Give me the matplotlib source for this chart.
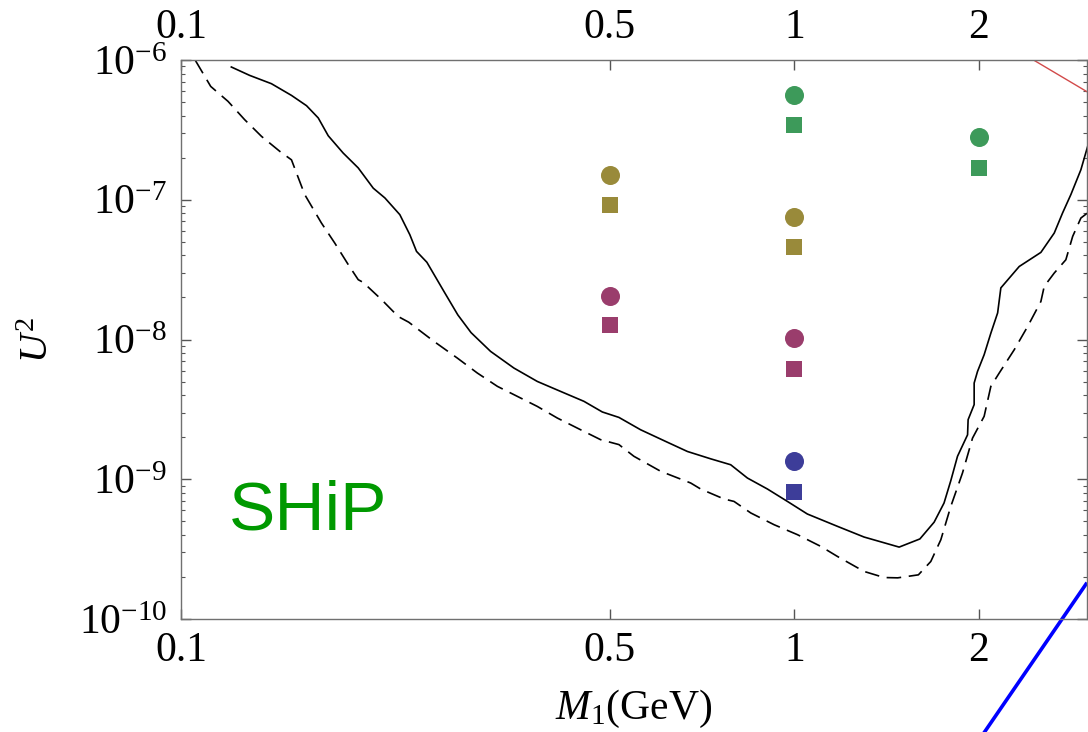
import numpy as np
import matplotlib
matplotlib.use("Agg")
import matplotlib.pyplot as plt
from matplotlib.ticker import FixedLocator, NullLocator, FuncFormatter, LogLocator

plt.rcParams["font.family"] = ["Liberation Serif", "DejaVu Serif"]
plt.rcParams["mathtext.fontset"] = "custom"
plt.rcParams["mathtext.rm"] = "Liberation Serif"
plt.rcParams["mathtext.it"] = "Liberation Serif:italic"
plt.rcParams["mathtext.bf"] = "Liberation Serif:bold"
plt.rcParams["lines.scale_dashes"] = False

# SHiP sensitivity curves (solid and dashed), M in GeV vs U^2
solid_M = [0.1208, 0.1294, 0.1404, 0.1514, 0.1602, 0.1674, 0.1738, 0.1838, 0.1945,
           0.2058, 0.2150, 0.2274, 0.2361, 0.2421, 0.2517, 0.2688, 0.2827, 0.2971,
           0.3197, 0.3489, 0.3810, 0.4159, 0.4539, 0.4863, 0.5176, 0.5615, 0.6209,
           0.6694, 0.7305, 0.7874, 0.8385, 0.9040, 0.9743, 1.050, 1.176, 1.299,
           1.482, 1.602, 1.690, 1.754, 1.799, 1.845, 1.916, 1.920, 1.964, 1.964,
           1.989, 2.039, 2.091, 2.145, 2.171, 2.326, 2.523, 2.653, 2.737, 2.824,
           2.932, 3.010]
solid_U2 = [8.91e-7, 7.76e-7, 6.77e-7, 5.58e-7, 4.71e-7, 3.85e-7, 2.87e-7, 2.16e-7, 1.69e-7,
            1.21e-7, 1.03e-7, 7.82e-8, 5.62e-8, 4.27e-8, 3.57e-8, 2.18e-8, 1.50e-8, 1.12e-8,
            8.22e-9, 6.25e-9, 5.01e-9, 4.25e-9, 3.61e-9, 3.03e-9, 2.77e-9, 2.26e-9, 1.84e-9,
            1.58e-9, 1.40e-9, 1.27e-9, 1.02e-9, 8.51e-10, 6.94e-10, 5.64e-10, 4.60e-10, 3.86e-10,
            3.27e-10, 3.74e-10, 4.93e-10, 6.76e-10, 9.76e-10, 1.46e-9, 2.08e-9, 2.67e-9, 3.42e-9, 4.88e-9,
            5.91e-9, 7.78e-9, 1.11e-8, 1.55e-8, 2.34e-8, 3.33e-8, 4.20e-8, 5.78e-8, 8.04e-8, 1.09e-7,
            1.64e-7, 2.44e-7]

dashed_M = [0.1056, 0.1118, 0.1193, 0.1270, 0.1353, 0.1449, 0.1514, 0.1543, 0.1591,
            0.1694, 0.1781, 0.1874, 0.1945, 0.1982, 0.2123, 0.2260, 0.2351, 0.2585,
            0.2821, 0.3041, 0.3280, 0.3534, 0.3810, 0.4108, 0.4483, 0.4831, 0.5176,
            0.5475, 0.6054, 0.6776, 0.7036, 0.7681, 0.7973, 0.8490, 0.9266, 1.012,
            1.104, 1.176, 1.299, 1.401, 1.474, 1.593, 1.669, 1.733, 1.799, 1.880,
            1.928, 1.952, 2.039, 2.091, 2.158, 2.283, 2.401, 2.523, 2.555, 2.653,
            2.771, 2.843, 2.932, 3.010]
dashed_U2 = [9.89e-7, 6.47e-7, 5.06e-7, 3.74e-7, 2.84e-7, 2.22e-7, 1.93e-7, 1.55e-7, 1.09e-7,
             6.82e-8, 4.90e-8, 3.43e-8, 2.68e-8, 2.56e-8, 1.93e-8, 1.46e-8, 1.33e-8, 9.69e-9,
             7.37e-9, 5.76e-9, 4.62e-9, 3.92e-9, 3.32e-9, 2.74e-9, 2.26e-9, 1.92e-9, 1.77e-9,
             1.46e-9, 1.14e-9, 9.40e-10, 8.51e-10, 7.22e-10, 6.94e-10, 5.74e-10, 4.73e-10, 4.01e-10,
             3.31e-10, 2.80e-10, 2.19e-10, 1.98e-10, 1.97e-10, 2.07e-10, 2.58e-10, 3.69e-10, 6.39e-10, 1.11e-9,
             1.63e-9, 1.97e-9, 2.82e-9, 4.62e-9, 5.76e-9, 8.45e-9, 1.24e-8, 1.87e-8, 2.40e-8, 2.99e-8,
             3.72e-8, 5.47e-8, 7.40e-8, 8.08e-8]

# Bounds drawn as straight lines in log-log
red_M = [2.4, 3.0]
red_U2 = [1.06e-6, 5.93e-7]
blue_M = [2.0, 3.0]
blue_U2 = [1.36e-11, 1.82e-10]

# Benchmark points: circles and squares for each colour group
green_M = [1.0, 2.0]
green_circle = [5.65e-7, 2.79e-7]
green_square = [3.43e-7, 1.69e-7]
olive_M = [0.5, 1.0]
olive_circle = [1.51e-7, 7.56e-8]
olive_square = [9.2e-8, 4.6e-8]
purple_M = [0.5, 1.0]
purple_circle = [2.05e-8, 1.03e-8]
purple_square = [1.26e-8, 6.2e-9]
blue_pt_M = [1.0]
blue_circle = [1.36e-9]
blue_square = [8.05e-10]

x_ticks = [0.1, 0.5, 1, 2]
x_ticklabels = ["0.1", "0.5", "1", "2"]
y_ticks = [1e-10, 1e-9, 1e-8, 1e-7, 1e-6]

fig = plt.figure(figsize=(10.88, 7.32), dpi=100)
ax = fig.add_axes([181 / 1088, 1 - 619 / 732, 906 / 1088, 559 / 732])
ax.set_xscale("log")
ax.set_yscale("log")
ax.set_xlim(0.1, 3.0)
ax.set_ylim(1e-10, 1e-6)

ax.plot(solid_M, solid_U2, color="black", lw=1.2)
ax.plot(dashed_M, dashed_U2, color="black", lw=1.2, dashes=(10.5, 5.5))
ax.plot(red_M, red_U2, color="#d24a4a", lw=1.0)
ax.plot(blue_M, blue_U2, color="#0000ff", lw=2.6, clip_on=False, solid_capstyle="butt")

groups = [
    (green_M, green_circle, green_square, "#3d9a5a"),
    (olive_M, olive_circle, olive_square, "#998a3a"),
    (purple_M, purple_circle, purple_square, "#9a3d6c"),
    (blue_pt_M, blue_circle, blue_square, "#3d3d99"),
]
for m, circ, sq, col in groups:
    ax.plot(m, circ, linestyle="none", marker="o", markersize=13.7, color=col, markeredgewidth=0)
    ax.plot(m, sq, linestyle="none", marker="s", markersize=12.2, color=col, markeredgewidth=0)

# Axes frame and ticks
for sp in ax.spines.values():
    sp.set_color("#707070")
    sp.set_linewidth(1.0)

ax.xaxis.set_major_locator(FixedLocator(x_ticks))
ax.xaxis.set_major_formatter(FuncFormatter(lambda v, p: x_ticklabels[x_ticks.index(v)] if v in x_ticks else ""))
ax.xaxis.set_minor_locator(NullLocator())
ax.yaxis.set_major_locator(FixedLocator(y_ticks))
ax.yaxis.set_major_formatter(FuncFormatter(lambda v, p: r"$10^{%d}$" % int(round(np.log10(v)))))
ax.yaxis.set_minor_locator(LogLocator(base=10, subs=np.arange(2, 10), numticks=20))

ax.tick_params(axis="both", which="both", direction="in", colors="#555555",
               labelcolor="black", labelsize=30)
ax.tick_params(axis="x", which="major", length=7, width=1.0, top=True, labeltop=True, pad=9)
ax.tick_params(axis="y", which="major", length=7, width=1.0, right=True, pad=10)
ax.tick_params(axis="y", which="minor", length=3, width=0.8, right=True)

ax.set_xlabel(r"$M_1$(GeV)", fontsize=30)
ax.xaxis.set_label_coords(0.5, -0.124)
ax.set_ylabel(r"$U^2$", fontsize=29)
ax.yaxis.set_label_coords(-0.137, 0.5)

fig.text(229 / 1088, 1 - 529 / 732, "SHiP", color="#009900", fontsize=50,
         family="Liberation Sans", ha="left", va="baseline")

fig.savefig("out.png", dpi=100)
